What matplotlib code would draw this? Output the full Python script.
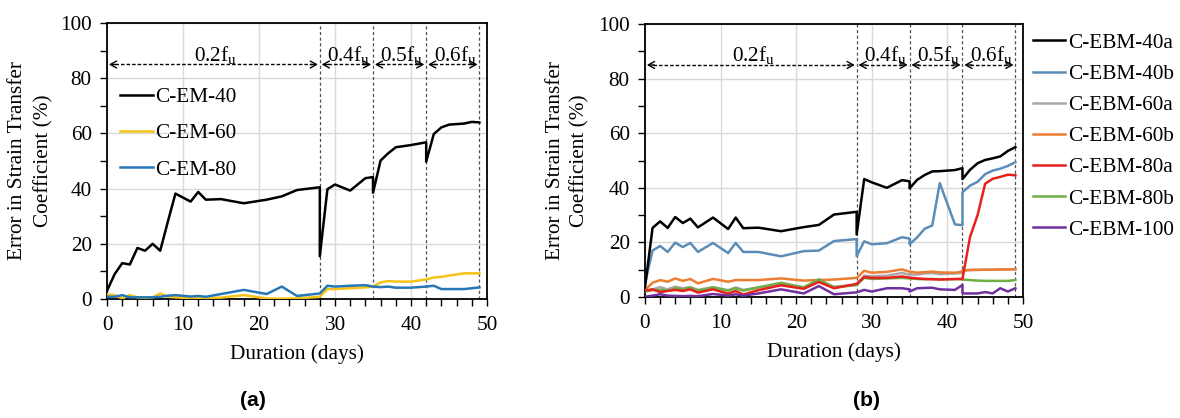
import matplotlib
matplotlib.use("Agg")
import matplotlib.pyplot as plt
from matplotlib.ticker import MultipleLocator

plt.rcParams['font.family'] = ['Liberation Serif', 'DejaVu Serif']
plt.rcParams['mathtext.fontset'] = 'custom'
plt.rcParams['mathtext.rm'] = 'Liberation Serif'
plt.rcParams['mathtext.it'] = 'Liberation Serif:italic'
plt.rcParams['mathtext.bf'] = 'Liberation Serif:bold'

# ---------------- data: panel (a) ----------------
days_a = [0, 1, 2, 3, 4, 5, 6, 7, 8, 9, 11, 12, 13, 15, 18, 21, 23, 25, 28, 28,
          29, 30, 32, 34, 35, 35, 36, 37, 38, 40, 42, 42, 43, 44, 45, 47, 48, 49]
c_em_40 = [3.0, 9, 13, 12.5, 18.5, 17.5, 20, 17.5, 28, 38.2, 35.3, 38.8, 36, 36.2, 34.7, 36, 37.2, 39.5, 40.5, 15.5,
           39.8, 41.5, 39.3, 43.8, 44.2, 38.5, 50.2, 52.8, 55, 55.8, 56.8, 49.8, 59.8, 62.2, 63.2, 63.6, 64.2, 64]
c_em_60 = [1.7, 1.4, 0.2, 1.4, 0.6, 0.4, 0.6, 2.0, 0.8, 0.6, 0.3, 0.2, 0.2, 0.5, 1.4, 0.2, 0.1, 0.2, 0.8, 0.8,
           3.6, 3.6, 3.9, 4.2, 4.5, 4.5, 6.0, 6.5, 6.3, 6.3, 7.1, 7.1, 7.8, 8.0, 8.5, 9.3, 9.3, 9.3]
c_em_80 = [0.8, 0.8, 1.4, 0.6, 0.6, 0.6, 0.6, 0.8, 1.2, 1.4, 0.9, 1.1, 0.8, 1.8, 3.3, 1.8, 4.5, 1.1, 2.0, 2.0,
           4.8, 4.5, 4.8, 5.0, 4.5, 4.5, 4.3, 4.5, 4.1, 4.1, 4.5, 4.5, 4.8, 3.6, 3.6, 3.6, 3.9, 4.2]
labels_a = ['C-EM-40', 'C-EM-60', 'C-EM-80']
colors_a = ['#000000', '#F5C216', '#2677B8']

# ---------------- data: panel (b) ----------------
days_b = [0, 1, 2, 3, 4, 5, 6, 7, 9, 11, 12, 13, 15, 18, 21, 23, 25, 28, 28,
          29, 30, 32, 34, 35, 35, 36, 37, 38, 39, 41, 42, 42, 43, 44, 45, 46, 47, 48, 49]
c_ebm_40a = [3.5, 25.3, 27.7, 25.3, 29.3, 27.1, 28.7, 25.5, 29.1, 24.9, 29.1, 25.2, 25.4, 24.1, 25.6, 26.4, 30.2, 31.2, 22.9,
             43.2, 42.0, 40.0, 42.8, 42.4, 39.8, 42.9, 44.7, 46.0, 46.1, 46.5, 47.2, 43.2, 46.6, 49.0, 50.2, 50.8, 51.5, 53.5, 54.9]
c_ebm_40b = [5.0, 17.0, 18.7, 16.5, 19.9, 18.3, 19.8, 16.5, 19.8, 16.1, 19.8, 16.5, 16.5, 14.9, 16.8, 17.0, 20.5, 21.2, 15.0,
             20.4, 19.3, 19.7, 21.9, 21.4, 19.3, 21.8, 25.0, 26.2, 41.7, 26.6, 26.3, 38.4, 40.8, 42.2, 45.0, 46.3, 47.0, 48.0, 49.4]
c_ebm_60a = [2.2, 2.8, 3.6, 2.8, 3.8, 3.2, 3.6, 2.6, 3.6, 2.5, 3.5, 2.6, 3.5, 4.4, 3.6, 5.8, 3.8, 4.4, 4.4,
             7.8, 7.6, 7.8, 8.8, 8.2, 8.2, 8.2, 8.6, 8.8, 8.4, 8.6, 8.8, 9.8, 9.9, 10.0, 10.0, 10.0, 10.1, 10.1, 10.2]
c_ebm_60b = [2.6, 5.2, 6.2, 5.6, 6.8, 5.9, 6.6, 5.0, 6.6, 5.6, 6.2, 6.2, 6.2, 6.8, 6.0, 6.2, 6.4, 7.0, 7.0,
             9.6, 8.9, 9.2, 10.1, 9.3, 9.3, 8.9, 9.1, 9.3, 9.0, 8.9, 9.3, 9.6, 9.9, 9.9, 10.0, 10.0, 10.1, 10.1, 10.1]
c_ebm_80a = [2.3, 2.8, 1.8, 2.2, 2.6, 2.2, 2.8, 1.6, 2.8, 1.2, 2.2, 0.9, 2.5, 4.3, 3.0, 5.5, 3.2, 4.8, 4.8,
             7.3, 7.0, 7.0, 7.5, 7.1, 7.1, 6.8, 6.6, 6.5, 6.4, 6.6, 6.6, 6.6, 22.0, 30.0, 41.5, 43.3, 44.0, 44.8, 44.6]
c_ebm_80b = [2.0, 2.5, 2.6, 2.4, 3.2, 2.8, 3.5, 2.3, 3.5, 2.3, 3.2, 2.3, 3.5, 5.2, 3.5, 6.5, 3.5, 4.4, 4.4,
             7.0, 6.6, 6.8, 7.0, 6.8, 6.8, 6.6, 6.5, 6.6, 6.5, 6.5, 6.6, 6.4, 6.2, 6.0, 5.9, 5.9, 5.9, 5.9, 6.2]
c_ebm_100 = [0.1, 0.5, 1.0, 0.5, 0.4, 0.3, 0.4, 0.3, 1.1, 0.5, 1.0, 0.5, 1.3, 2.8, 1.3, 4.0, 1.0, 1.7, 1.7,
             2.6, 2.0, 3.2, 3.2, 2.8, 2.0, 3.2, 3.3, 3.4, 2.8, 2.6, 4.4, 1.3, 1.3, 1.3, 1.8, 1.3, 3.2, 2.0, 3.2]
labels_b = ['C-EBM-40a', 'C-EBM-40b', 'C-EBM-60a', 'C-EBM-60b', 'C-EBM-80a', 'C-EBM-80b', 'C-EBM-100']
colors_b = ['#000000', '#5B8DB8', '#A9A9A9', '#ED7D31', '#E8201E', '#6FAE45', '#7030A0']

# load stages
stage_bounds = [0, 28, 35, 42, 49]
stage_labels = [r'0.2f$_\mathrm{u}$', r'0.4f$_\mathrm{u}$', r'0.5f$_\mathrm{u}$', r'0.6f$_\mathrm{u}$']

FS = 15.3
fig = plt.figure(figsize=(11.8, 4.18), dpi=100)
ax1 = fig.add_axes([0.0907, 0.2847, 0.322, 0.660])
ax2 = fig.add_axes([0.5466, 0.2895, 0.3203, 0.653])


def style(ax, ylx, ls):
    ax.set_xlim(0, 50)
    ax.set_ylim(0, 100)
    ax.xaxis.set_major_locator(MultipleLocator(10))
    ax.xaxis.set_minor_locator(MultipleLocator(2))
    ax.yaxis.set_major_locator(MultipleLocator(20))
    ax.yaxis.set_minor_locator(MultipleLocator(10))
    ax.tick_params(which='both', direction='out', length=5, width=1.0, labelsize=FS, top=False, right=False)
    ax.tick_params(axis='x', pad=7)
    ax.tick_params(axis='y', pad=6)
    ax.grid(True, which='major', color='#D9D9D9', lw=1.0)
    ax.set_axisbelow(True)
    for s in ax.spines.values():
        s.set_linewidth(1.3)
        s.set_color('black')
    ax.set_xlabel('Duration (days)', fontsize=FS, labelpad=7)
    ax.set_ylabel('Error in Strain Transfer\nCoefficient (%)', fontsize=FS, va='center', linespacing=ls)
    ax.yaxis.set_label_coords(ylx, 0.5)
    # stage lines and arrows
    for b in stage_bounds[1:]:
        ax.axvline(b, color='#505050', lw=0.9, ls=(0, (2.5, 2)), zorder=1)
    for i in range(4):
        x0, x1 = stage_bounds[i], stage_bounds[i + 1]
        a0, a1 = x0 + 0.25, x1 - 0.25
        ax.plot([a0 + 0.8, a1 - 0.8], [85, 85], color='black', lw=1.0, ls=(0, (2.5, 1.5)), zorder=3)
        ax.annotate('', xy=(a1, 85), xytext=(a1 - 1.0, 85),
                    arrowprops=dict(arrowstyle='->,head_length=0.45,head_width=0.25', color='black', lw=1.0,
                                    shrinkA=0, shrinkB=0), zorder=3)
        ax.annotate('', xy=(a0, 85), xytext=(a0 + 1.0, 85),
                    arrowprops=dict(arrowstyle='->,head_length=0.45,head_width=0.25', color='black', lw=1.0,
                                    shrinkA=0, shrinkB=0), zorder=3)
        ax.text((x0 + x1) / 2 + 0.3, 86.3, stage_labels[i], ha='center', va='baseline', fontsize=FS)


style(ax1, -0.20, 1.5)
style(ax2, -0.205, 1.35)

for y, lab, c in zip([c_em_40, c_em_60, c_em_80], labels_a, colors_a):
    ax1.plot(days_a, y, color=c, lw=1.8, label=lab, zorder=4)

series_b = [c_ebm_40a, c_ebm_40b, c_ebm_60a, c_ebm_60b, c_ebm_80a, c_ebm_80b, c_ebm_100]
order = [2, 3, 5, 4, 6, 1, 0]
lines = {}
for i in order:
    ln, = ax2.plot(days_b, series_b[i], color=colors_b[i], lw=1.8, label=labels_b[i], zorder=4)
    lines[i] = ln

leg1 = ax1.legend(loc='upper left', bbox_to_anchor=(0.034, 0.768), frameon=False, fontsize=FS,
                  handlelength=1.55, handletextpad=0.1, labelspacing=0.78, borderaxespad=0, borderpad=0)
leg2 = ax2.legend([lines[i] for i in range(7)], labels_b, loc='upper left', bbox_to_anchor=(1.026, 0.967),
                  frameon=False, fontsize=FS, handlelength=1.5, handletextpad=0.15, labelspacing=0.53,
                  borderaxespad=0, borderpad=0)

fig.text(253 / 1180, 1 - 400 / 418, '(a)', ha='center', va='center', fontsize=FS, fontweight='bold',
         family=['Liberation Sans', 'DejaVu Sans'])
fig.text(866 / 1180, 1 - 400 / 418, '(b)', ha='center', va='center', fontsize=FS, fontweight='bold',
         family=['Liberation Sans', 'DejaVu Sans'])

fig.savefig('out.png', dpi=100)
